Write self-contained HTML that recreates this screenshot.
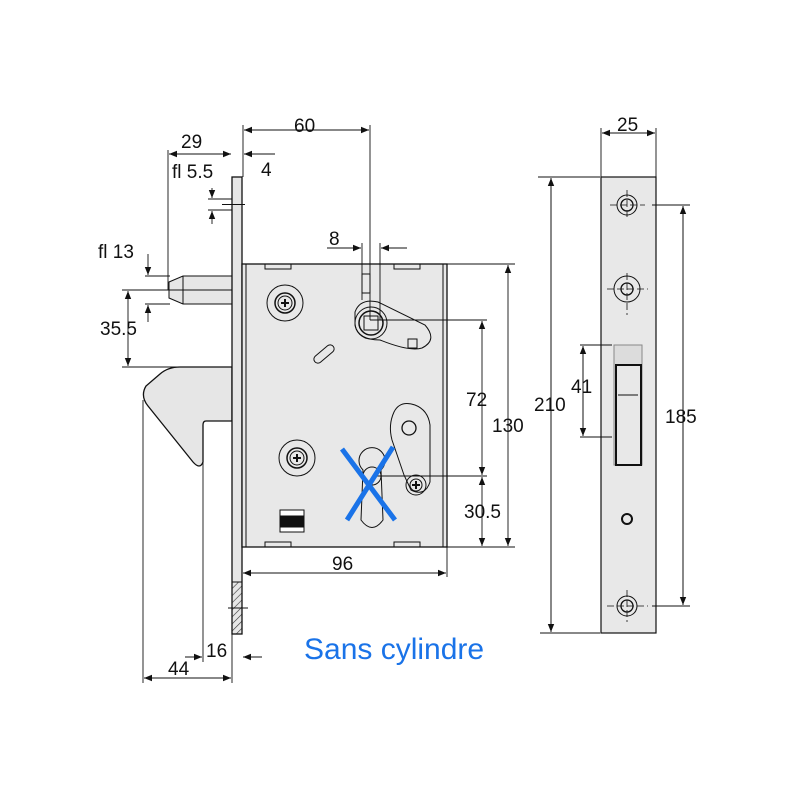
<!DOCTYPE html>
<html><head><style>body{margin:0;background:#fff}svg{display:block}text{font-family:"Liberation Sans",sans-serif;font-size:19px;fill:#111}</style></head><body>
<svg width="800" height="800" viewBox="0 0 800 800" xmlns="http://www.w3.org/2000/svg">
<defs>
<marker id="a" viewBox="0 0 10 10" refX="10" refY="5" markerWidth="10" markerHeight="8" orient="auto-start-reverse" markerUnits="userSpaceOnUse"><path d="M0,1 L10,5 L0,9z" fill="#111"/></marker>
<pattern id="h" width="5" height="5" patternUnits="userSpaceOnUse" patternTransform="rotate(45)"><line x1="0" y1="0" x2="0" y2="5" stroke="#333" stroke-width="1.2"/></pattern>
</defs>
<g stroke="#111" stroke-width="1" fill="none">
<path d="M180,367 L232,367 L232,421 L206,421 Q203,421 203,425 L203,462 Q200,470 193,462 L148,406 Q140,396 146,386 L160,374 Q168,367 180,367Z" fill="#e6e6e6" stroke-width="1.3"/>
<path d="M183,276 L232,276 L232,304 L183,304 L169,298 L169,282Z" fill="#e6e6e6"/>
<line x1="183" y1="276" x2="183" y2="304"/>
<rect x="232" y="177" width="10" height="457" fill="#e6e6e6" stroke-width="1.3"/>
<rect x="232" y="582" width="10" height="52" fill="url(#h)"/>
<rect x="242" y="264" width="205" height="283" fill="#e8e8e8" stroke-width="1.3"/>
<line x1="246" y1="264" x2="246" y2="547"/><line x1="443" y1="264" x2="443" y2="547"/>
<rect x="265" y="264" width="26" height="5"/><rect x="394" y="264" width="26" height="5"/>
<rect x="265" y="542" width="26" height="5"/><rect x="394" y="542" width="26" height="5"/>
<circle cx="285" cy="303" r="18"/><circle cx="285" cy="303" r="10" stroke-width="1.5"/><circle cx="285" cy="303" r="7"/>
<path d="M281,303h8M285,299v8" stroke-width="2"/>
<circle cx="297" cy="458" r="18"/><circle cx="297" cy="458" r="10" stroke-width="1.5"/><circle cx="297" cy="458" r="7"/>
<path d="M293,458h8M297,454v8" stroke-width="2"/>
<path d="M355,312 Q360,298 378,302 L425,325 Q438,340 422,348 Q410,352 380,340 Q358,340 355,325Z"/>
<circle cx="371" cy="323" r="16"/><circle cx="371" cy="323" r="12" stroke-width="1.5"/>
<rect x="364" y="316" width="14" height="14"/>
<rect x="362" y="274" width="8" height="19"/>
<rect x="408" y="339" width="9" height="9"/>
<rect x="312" y="350" width="24" height="8" rx="4" transform="rotate(-40 324 354)"/>
<path d="M394,412 Q400,400 415,405 Q428,410 430,425 L430,482 Q425,497 411,490 L404,475 L392,440 Q388,425 394,412Z"/>
<circle cx="409" cy="428" r="7" stroke-width="1.3"/>
<circle cx="416" cy="485" r="10"/><circle cx="416" cy="485" r="6"/><path d="M412,485h8M416,481v8" stroke-width="2"/>
<path d="M363,470 A13,13 0 1,1 381,470 L383,520 Q372,535 361,520Z"/>
<circle cx="372" cy="476" r="9"/>
<rect x="280" y="510" width="24" height="22" fill="#fff"/>
<rect x="281" y="516" width="22" height="11" fill="#111"/>
<g stroke-width="0.9">
<path d="M243,125V177M370,125V320M168,150V290M243,150V177"/>
<line x1="244" y1="130" x2="369" y2="130" marker-start="url(#a)" marker-end="url(#a)"/>
<line x1="169" y1="154" x2="231" y2="154" marker-start="url(#a)" marker-end="url(#a)"/>
<line x1="275" y1="154" x2="244" y2="154" marker-end="url(#a)"/>
<path d="M208,199H232M208,210H232M222,204.5H245" />
<line x1="212" y1="188" x2="212" y2="198" marker-end="url(#a)"/>
<line x1="212" y1="224" x2="212" y2="211" marker-end="url(#a)"/>
<path d="M145,276H170M145,304H170M122,290H232M122,367H180" />
<line x1="148" y1="254" x2="148" y2="275" marker-end="url(#a)"/>
<line x1="148" y1="322" x2="148" y2="305" marker-end="url(#a)"/>
<line x1="128" y1="291" x2="128" y2="366" marker-start="url(#a)" marker-end="url(#a)"/>
<path d="M362,243V300M380,243V320"/>
<line x1="327" y1="248" x2="361" y2="248" marker-end="url(#a)"/>
<line x1="407" y1="248" x2="381" y2="248" marker-end="url(#a)"/>
<path d="M370,320H487M375,476H487M447,264H515M447,547H515M447,547V577"/>
<line x1="482" y1="321" x2="482" y2="475" marker-start="url(#a)" marker-end="url(#a)"/>
<line x1="482" y1="477" x2="482" y2="546" marker-start="url(#a)" marker-end="url(#a)"/>
<line x1="508" y1="265" x2="508" y2="546" marker-start="url(#a)" marker-end="url(#a)"/>
<line x1="243" y1="573" x2="446" y2="573" marker-start="url(#a)" marker-end="url(#a)"/>
<path d="M143,400V683M232,634V683M203,425V662M228,608H248"/>
<line x1="144" y1="678" x2="231" y2="678" marker-start="url(#a)" marker-end="url(#a)"/>
<line x1="185" y1="657" x2="202" y2="657" marker-end="url(#a)"/>
<line x1="262" y1="657" x2="243" y2="657" marker-end="url(#a)"/>
</g>
<rect x="601" y="177" width="55" height="456" fill="#e8e8e8" stroke-width="1.2"/>
<path d="M601,128V190M656,128V190M538,177H600M540,633H600M652,205H690M652,606H690M580,345H612M580,437H612" stroke-width="0.9"/>
<line x1="602" y1="133" x2="655" y2="133" marker-start="url(#a)" marker-end="url(#a)"/>
<line x1="551" y1="178" x2="551" y2="632" marker-start="url(#a)" marker-end="url(#a)"/>
<line x1="683" y1="206" x2="683" y2="605" marker-start="url(#a)" marker-end="url(#a)"/>
<line x1="583" y1="346" x2="583" y2="436" marker-start="url(#a)" marker-end="url(#a)"/>
<circle cx="627" cy="205" r="10"/><circle cx="627" cy="205" r="6" stroke-width="1.3"/>
<circle cx="627" cy="289" r="13"/><circle cx="627" cy="289" r="6" stroke-width="1.3"/>
<circle cx="627" cy="606" r="10"/><circle cx="627" cy="606" r="6" stroke-width="1.3"/>
<path d="M610,205H645M627,190V220M607,289H648M627,273V315M607,606H648M627,590V622" stroke-width="0.8" stroke-dasharray="7,3"/>
<circle cx="627" cy="519" r="5" stroke-width="2"/>
<rect x="614" y="345" width="28" height="120" fill="#dcdcdc" stroke="#888"/>
<rect x="616" y="365" width="25" height="100" fill="#e8e8e8" stroke-width="2"/>
<line x1="618" y1="395" x2="638" y2="395"/>
</g>
<path d="M342,449L395,520M393,447L347,520" stroke="#1a73e8" stroke-width="5"/>
<text x="181" y="148">29</text><text x="294" y="132">60</text>
<text x="172" y="178">fl 5.5</text><text x="261" y="176">4</text>
<text x="98" y="258">fl 13</text><text x="329" y="245">8</text>
<text x="100" y="335">35.5</text>
<text x="466" y="406">72</text><text x="492" y="432">130</text><text x="464" y="518">30.5</text>
<text x="332" y="570">96</text><text x="206" y="657">16</text><text x="168" y="675">44</text>
<text x="617" y="131">25</text><text x="534" y="411">210</text><text x="571" y="393">41</text><text x="665" y="423">185</text>
<text x="304" y="659" style="font-size:30px;fill:#1a73e8">Sans cylindre</text>
</svg>
</body></html>
